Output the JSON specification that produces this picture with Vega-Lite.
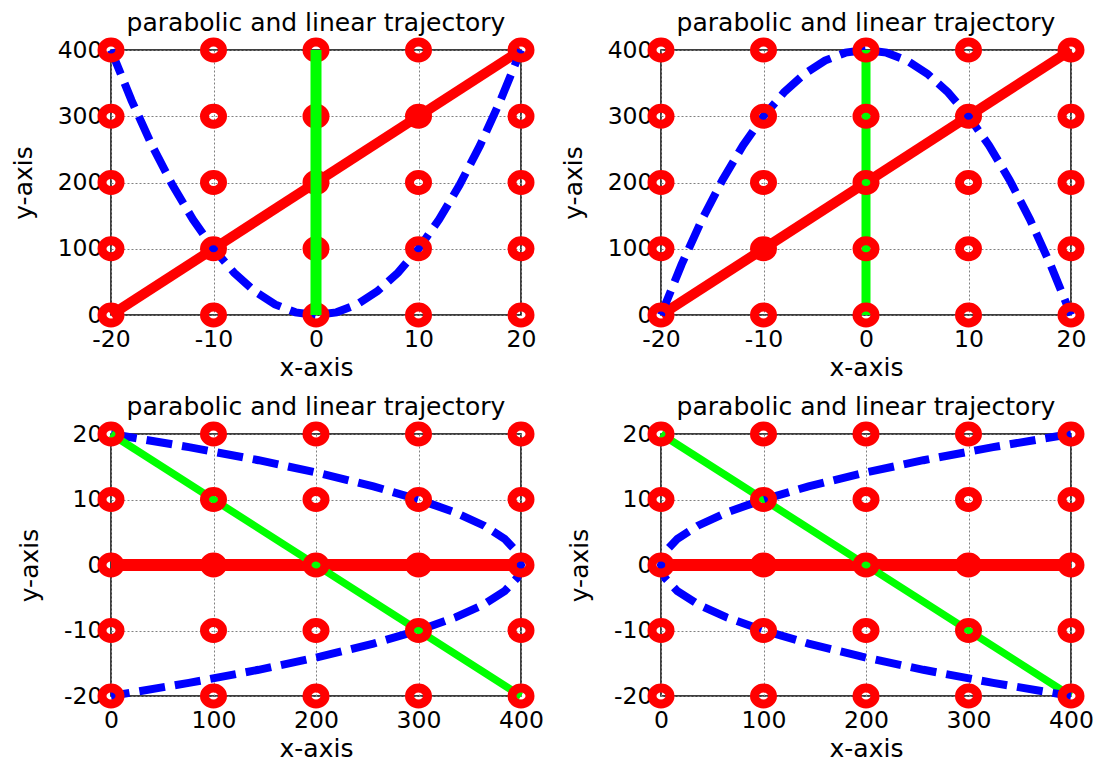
{
  "$schema": "https://vega.github.io/schema/vega-lite/v6.json",
  "background": "white",
  "padding": {"left": 10, "top": 10, "right": 5, "bottom": 2},
  "config": {
    "font": "DejaVu Sans",
    "view": {"stroke": "black", "strokeWidth": 1.5},
    "axis": {
      "domain": false,
      "ticks": false,
      "tickSize": 0,
      "grid": true,
      "gridColor": "#808080",
      "gridDash": [2, 2],
      "gridWidth": 1,
      "gridOpacity": 1,
      "labelFont": "DejaVu Sans",
      "labelFontSize": 23.5,
      "labelColor": "black",
      "labelOverlap": false,
      "labelFlush": false,
      "labelBound": false,
      "labelExpr": "replace(datum.label, '\u2212', '-')",
      "titleFont": "DejaVu Sans",
      "titleFontSize": 25,
      "titleFontWeight": "normal",
      "titleColor": "black"
    },
    "axisX": {"labelPadding": 12, "titlePadding": 5},
    "axisY": {"labelPadding": 9, "titlePadding": 21},
    "title": {"font": "DejaVu Sans", "fontSize": 25, "fontWeight": "normal", "color": "black", "anchor": "middle", "offset": -12}
  },
  "datasets": {
    "gridTop": [
      {"x": -20, "y": 0}, {"x": -20, "y": 100}, {"x": -20, "y": 200}, {"x": -20, "y": 300}, {"x": -20, "y": 400},
      {"x": -10, "y": 0}, {"x": -10, "y": 100}, {"x": -10, "y": 200}, {"x": -10, "y": 300}, {"x": -10, "y": 400},
      {"x": 0, "y": 0}, {"x": 0, "y": 100}, {"x": 0, "y": 200}, {"x": 0, "y": 300}, {"x": 0, "y": 400},
      {"x": 10, "y": 0}, {"x": 10, "y": 100}, {"x": 10, "y": 200}, {"x": 10, "y": 300}, {"x": 10, "y": 400},
      {"x": 20, "y": 0}, {"x": 20, "y": 100}, {"x": 20, "y": 200}, {"x": 20, "y": 300}, {"x": 20, "y": 400}
    ],
    "gridBottom": [
      {"x": 0, "y": -20}, {"x": 0, "y": -10}, {"x": 0, "y": 0}, {"x": 0, "y": 10}, {"x": 0, "y": 20},
      {"x": 100, "y": -20}, {"x": 100, "y": -10}, {"x": 100, "y": 0}, {"x": 100, "y": 10}, {"x": 100, "y": 20},
      {"x": 200, "y": -20}, {"x": 200, "y": -10}, {"x": 200, "y": 0}, {"x": 200, "y": 10}, {"x": 200, "y": 20},
      {"x": 300, "y": -20}, {"x": 300, "y": -10}, {"x": 300, "y": 0}, {"x": 300, "y": 10}, {"x": 300, "y": 20},
      {"x": 400, "y": -20}, {"x": 400, "y": -10}, {"x": 400, "y": 0}, {"x": 400, "y": 10}, {"x": 400, "y": 20}
    ],
    "parabolaUp": [
      {"x": -20, "y": 400}, {"x": -18, "y": 324}, {"x": -16, "y": 256}, {"x": -14, "y": 196}, {"x": -12, "y": 144},
      {"x": -10, "y": 100}, {"x": -8, "y": 64}, {"x": -6, "y": 36}, {"x": -4, "y": 16}, {"x": -2, "y": 4},
      {"x": 0, "y": 0}, {"x": 2, "y": 4}, {"x": 4, "y": 16}, {"x": 6, "y": 36}, {"x": 8, "y": 64},
      {"x": 10, "y": 100}, {"x": 12, "y": 144}, {"x": 14, "y": 196}, {"x": 16, "y": 256}, {"x": 18, "y": 324},
      {"x": 20, "y": 400}
    ],
    "parabolaDown": [
      {"x": -20, "y": 0}, {"x": -18, "y": 76}, {"x": -16, "y": 144}, {"x": -14, "y": 204}, {"x": -12, "y": 256},
      {"x": -10, "y": 300}, {"x": -8, "y": 336}, {"x": -6, "y": 364}, {"x": -4, "y": 384}, {"x": -2, "y": 396},
      {"x": 0, "y": 400}, {"x": 2, "y": 396}, {"x": 4, "y": 384}, {"x": 6, "y": 364}, {"x": 8, "y": 336},
      {"x": 10, "y": 300}, {"x": 12, "y": 256}, {"x": 14, "y": 204}, {"x": 16, "y": 144}, {"x": 18, "y": 76},
      {"x": 20, "y": 0}
    ],
    "parabolaLeft": [
      {"x": 0, "y": -20}, {"x": 76, "y": -18}, {"x": 144, "y": -16}, {"x": 204, "y": -14}, {"x": 256, "y": -12},
      {"x": 300, "y": -10}, {"x": 336, "y": -8}, {"x": 364, "y": -6}, {"x": 384, "y": -4}, {"x": 396, "y": -2},
      {"x": 400, "y": 0}, {"x": 396, "y": 2}, {"x": 384, "y": 4}, {"x": 364, "y": 6}, {"x": 336, "y": 8},
      {"x": 300, "y": 10}, {"x": 256, "y": 12}, {"x": 204, "y": 14}, {"x": 144, "y": 16}, {"x": 76, "y": 18},
      {"x": 0, "y": 20}
    ],
    "parabolaRight": [
      {"x": 400, "y": -20}, {"x": 324, "y": -18}, {"x": 256, "y": -16}, {"x": 196, "y": -14}, {"x": 144, "y": -12},
      {"x": 100, "y": -10}, {"x": 64, "y": -8}, {"x": 36, "y": -6}, {"x": 16, "y": -4}, {"x": 4, "y": -2},
      {"x": 0, "y": 0}, {"x": 4, "y": 2}, {"x": 16, "y": 4}, {"x": 36, "y": 6}, {"x": 64, "y": 8},
      {"x": 100, "y": 10}, {"x": 144, "y": 12}, {"x": 196, "y": 14}, {"x": 256, "y": 16}, {"x": 324, "y": 18},
      {"x": 400, "y": 20}
    ],
    "redTop": [{"x": -20, "y": 0}, {"x": 20, "y": 400}],
    "greenTop": [{"x": 0, "y": 0}, {"x": 0, "y": 400}],
    "redBottom": [{"x": 0, "y": 0}, {"x": 400, "y": 0}],
    "greenBottom": [{"x": 0, "y": 20}, {"x": 400, "y": -20}]
  },
  "bounds": "flush",
  "align": "each",
  "columns": 2,
  "spacing": {"row": 119, "column": 140},
  "concat": [
    {
      "width": 410,
      "height": 265,
      "title": "parabolic and linear trajectory",
      "encoding": {
        "x": {"field": "x", "type": "quantitative", "scale": {"domain": [-20, 20], "nice": false, "zero": false}, "axis": {"values": [-20, -10, 0, 10, 20], "title": "x-axis"}},
        "y": {"field": "y", "type": "quantitative", "scale": {"domain": [0, 400], "nice": false}, "axis": {"values": [0, 100, 200, 300, 400], "title": "y-axis"}}
      },
      "layer": [
        {"data": {"name": "redTop"}, "mark": {"type": "line", "color": "#ff0000", "strokeWidth": 10}, "encoding": {"order": {"field": "y", "type": "quantitative"}}},
        {"data": {"name": "parabolaUp"}, "mark": {"type": "line", "color": "#0000ff", "strokeWidth": 8, "strokeDash": [26, 10]}, "encoding": {"order": {"field": "x", "type": "quantitative"}}},
        {"data": {"name": "gridTop"}, "mark": {"type": "point", "shape": "M1,0C1,0.486,0.552,0.88,0,0.88C-0.552,0.88,-1,0.486,-1,0C-1,-0.486,-0.552,-0.88,0,-0.88C0.552,-0.88,1,-0.486,1,0Z", "size": 324, "filled": false, "stroke": "#ff0000", "strokeWidth": 9, "opacity": 1}},
        {"data": {"name": "greenTop"}, "mark": {"type": "line", "color": "#00ff00", "strokeWidth": 11}, "encoding": {"order": {"field": "y", "type": "quantitative"}}}
      ]
    },
    {
      "width": 410,
      "height": 265,
      "title": "parabolic and linear trajectory",
      "encoding": {
        "x": {"field": "x", "type": "quantitative", "scale": {"domain": [-20, 20], "nice": false, "zero": false}, "axis": {"values": [-20, -10, 0, 10, 20], "title": "x-axis"}},
        "y": {"field": "y", "type": "quantitative", "scale": {"domain": [0, 400], "nice": false}, "axis": {"values": [0, 100, 200, 300, 400], "title": "y-axis"}}
      },
      "layer": [
        {"data": {"name": "redTop"}, "mark": {"type": "line", "color": "#ff0000", "strokeWidth": 10}, "encoding": {"order": {"field": "y", "type": "quantitative"}}},
        {"data": {"name": "parabolaDown"}, "mark": {"type": "line", "color": "#0000ff", "strokeWidth": 8, "strokeDash": [26, 10]}, "encoding": {"order": {"field": "x", "type": "quantitative"}}},
        {"data": {"name": "greenTop"}, "mark": {"type": "line", "color": "#00ff00", "strokeWidth": 9}, "encoding": {"order": {"field": "y", "type": "quantitative"}}},
        {"data": {"name": "gridTop"}, "mark": {"type": "point", "shape": "M1,0C1,0.486,0.552,0.88,0,0.88C-0.552,0.88,-1,0.486,-1,0C-1,-0.486,-0.552,-0.88,0,-0.88C0.552,-0.88,1,-0.486,1,0Z", "size": 324, "filled": false, "stroke": "#ff0000", "strokeWidth": 9, "opacity": 1}}
      ]
    },
    {
      "width": 410,
      "height": 262,
      "title": "parabolic and linear trajectory",
      "encoding": {
        "x": {"field": "x", "type": "quantitative", "scale": {"domain": [0, 400], "nice": false, "zero": false}, "axis": {"values": [0, 100, 200, 300, 400], "title": "x-axis"}},
        "y": {"field": "y", "type": "quantitative", "scale": {"domain": [-20, 20], "nice": false, "zero": false}, "axis": {"values": [-20, -10, 0, 10, 20], "title": "y-axis"}}
      },
      "layer": [
        {"data": {"name": "redBottom"}, "mark": {"type": "line", "color": "#ff0000", "strokeWidth": 12}, "encoding": {"order": {"field": "x", "type": "quantitative"}}},
        {"data": {"name": "parabolaLeft"}, "mark": {"type": "line", "color": "#0000ff", "strokeWidth": 8, "strokeDash": [26, 10]}, "encoding": {"order": {"field": "y", "type": "quantitative", "sort": "descending"}}},
        {"data": {"name": "greenBottom"}, "mark": {"type": "line", "color": "#00ff00", "strokeWidth": 7.5}, "encoding": {"order": {"field": "x", "type": "quantitative"}}},
        {"data": {"name": "gridBottom"}, "mark": {"type": "point", "shape": "M1,0C1,0.486,0.552,0.88,0,0.88C-0.552,0.88,-1,0.486,-1,0C-1,-0.486,-0.552,-0.88,0,-0.88C0.552,-0.88,1,-0.486,1,0Z", "size": 324, "filled": false, "stroke": "#ff0000", "strokeWidth": 9, "opacity": 1}}
      ]
    },
    {
      "width": 410,
      "height": 262,
      "title": "parabolic and linear trajectory",
      "encoding": {
        "x": {"field": "x", "type": "quantitative", "scale": {"domain": [0, 400], "nice": false, "zero": false}, "axis": {"values": [0, 100, 200, 300, 400], "title": "x-axis"}},
        "y": {"field": "y", "type": "quantitative", "scale": {"domain": [-20, 20], "nice": false, "zero": false}, "axis": {"values": [-20, -10, 0, 10, 20], "title": "y-axis"}}
      },
      "layer": [
        {"data": {"name": "redBottom"}, "mark": {"type": "line", "color": "#ff0000", "strokeWidth": 12}, "encoding": {"order": {"field": "x", "type": "quantitative"}}},
        {"data": {"name": "greenBottom"}, "mark": {"type": "line", "color": "#00ff00", "strokeWidth": 7.5}, "encoding": {"order": {"field": "x", "type": "quantitative"}}},
        {"data": {"name": "parabolaRight"}, "mark": {"type": "line", "color": "#0000ff", "strokeWidth": 8, "strokeDash": [26, 10]}, "encoding": {"order": {"field": "y", "type": "quantitative", "sort": "descending"}}},
        {"data": {"name": "gridBottom"}, "mark": {"type": "point", "shape": "M1,0C1,0.486,0.552,0.88,0,0.88C-0.552,0.88,-1,0.486,-1,0C-1,-0.486,-0.552,-0.88,0,-0.88C0.552,-0.88,1,-0.486,1,0Z", "size": 324, "filled": false, "stroke": "#ff0000", "strokeWidth": 9, "opacity": 1}}
      ]
    }
  ]
}
